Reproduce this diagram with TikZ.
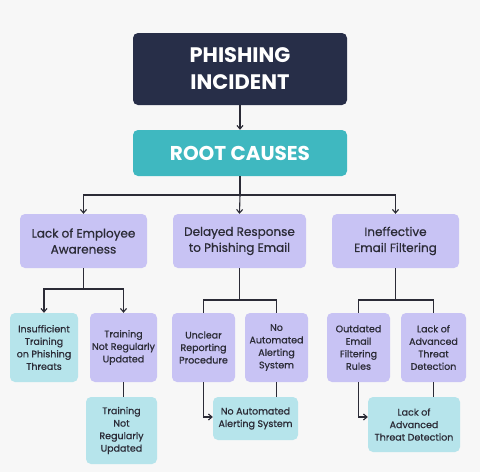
\documentclass[tikz,border=0pt]{standalone}
\usepackage{fontspec}
\setmainfont{Poppins}
\newfontfamily\medium{Poppins}[FakeBold=0.7]
\usetikzlibrary{arrows.meta}
\definecolor{navy}{HTML}{272E48}
\definecolor{teal}{HTML}{3FB8C0}
\definecolor{lilac}{HTML}{C8C3F4}
\definecolor{aqua}{HTML}{B6E4EB}
\definecolor{ink}{HTML}{2B2B36}
\definecolor{paper}{HTML}{F7F7F7}
\begin{document}
\begin{tikzpicture}[x=1pt,y=-1pt,
		box/.style={rounded corners=5pt, align=center, inner sep=0pt, text=ink},
		cause/.style={box, fill=lilac, minimum height=54pt, font=\medium\fontsize{12}{16}\selectfont},
		sub/.style={box, minimum height=69pt, font=\medium\fontsize{9.5}{12.5}\selectfont},
		link/.style={draw=ink, line width=1.1pt},
		tip/.style={link, -{Straight Barb[length=3.5pt,width=6pt]}}]
		\fill [paper] (0,0) rectangle (480,472);
		\node [box, fill=navy, text=white, minimum width=214pt, minimum height=72pt, font=\fontsize{21}{27}\selectfont\bfseries] (incident) at (240,69) {PHISHING\\INCIDENT};
		\node [box, fill=teal, text=white, minimum width=214pt, minimum height=46pt, font=\fontsize{20}{24}\selectfont\bfseries] (root) at (240,153) {ROOT CAUSES};
		\node [cause, minimum width=127pt] (aware) at (83.5,241) {Lack of Employee\\Awareness};
		\node [cause, minimum width=133pt] (delay) at (239.5,241) {Delayed Response\\to Phishing Email};
		\node [cause, minimum width=127pt] (filter) at (395.5,241) {Ineffective\\Email Filtering};
		\node [sub, fill=aqua, minimum width=68pt] (insuf) at (44,347.5) {Insufficient\\Training\\on Phishing\\Threats};
		\node [sub, fill=lilac, minimum width=67pt] (notreg) at (123.5,347.5) {Training\\Not Regularly\\Updated};
		\node [sub, fill=aqua, minimum width=71pt, minimum height=67pt] (notregB) at (121.5,430.5) {Training\\Not\\Regularly\\Updated};
		\node [sub, fill=lilac, minimum width=63pt] (unclear) at (203.5,347.5) {Unclear\\Reporting\\Procedure};
		\node [sub, fill=lilac, minimum width=63pt] (noauto) at (276.5,347.5) {No\\Automated\\Alerting\\System};
		\node [sub, fill=aqua, minimum width=85pt, minimum height=43pt] (noautoB) at (255.5,418.5) {No Automated\\Alerting System};
		\node [sub, fill=lilac, minimum width=63pt] (outdated) at (358.5,347.5) {Outdated\\Email\\Filtering\\Rules};
		\node [sub, fill=lilac, minimum width=65pt] (advanced) at (433.5,347.5) {Lack of\\Advanced\\Threat\\Detection};
		\node [sub, fill=aqua, minimum width=92pt, minimum height=55pt] (advancedB) at (414,424.5) {Lack of\\Advanced\\Threat Detection};
		\coordinate (bus) at (240,195);
		\coordinate (awareBus) at (83.5,289);
		\coordinate (delayBus) at (239.5,300);
		\coordinate (filterBus) at (395.5,300);
		\draw [tip] (incident) -- (root);
		\draw [link] (root) -- (bus);
		\draw [tip] (bus) -| (aware.north);
		\draw [tip] (bus) -- (delay.north);
		\draw [tip] (bus) -| (filter.north);
		\draw [link] (aware) -- (awareBus);
		\draw [tip] (awareBus) -| (insuf.north);
		\draw [tip] (awareBus) -| (notreg.north);
		\draw [link] (notreg.south) -- (notreg.south |- notregB.north);
		\draw [link] (delay) -- (delayBus);
		\draw [link] (delayBus) -| (unclear.north);
		\draw [link] (delayBus) -| (noauto.north);
		\draw [tip] (unclear.south) |- ([yshift=1.5pt]noautoB.west);
		\draw [link] (noauto.south) -- (noauto.south |- noautoB.north);
		\draw [link] (filter) -- (filterBus);
		\draw [link] (filterBus) -| (outdated.north);
		\draw [link] (filterBus) -| (advanced.north);
		\draw [tip] (outdated.south) |- ([yshift=7.5pt]advancedB.west);
		\draw [link] (advanced.south) -- (advanced.south |- advancedB.north);
	\end{tikzpicture}
\end{document}
